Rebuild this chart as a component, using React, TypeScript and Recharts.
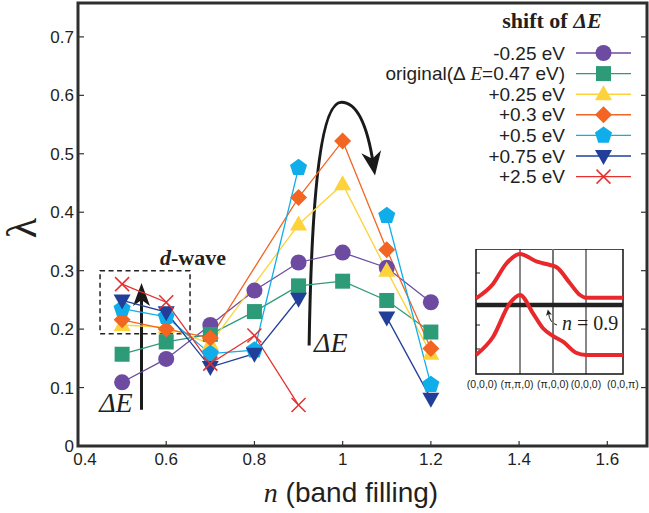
import React from 'react';
import {
  LineChart,
  Line,
  XAxis,
  YAxis,
  ReferenceArea,
  ReferenceLine,
  Customized,
} from 'recharts';

// ---------------- data ----------------
const nValues = [0.5, 0.6, 0.7, 0.8, 0.9, 1.0, 1.1, 1.2];
const lamMinus025 = [0.109, 0.149, 0.207, 0.266, 0.314, 0.331, 0.305, 0.246];
const lamOriginal = [0.157, 0.178, 0.191, 0.23, 0.274, 0.282, 0.249, 0.195];
const lamPlus025 = [0.207, 0.203, 0.175, null, 0.379, 0.448, 0.3, 0.158];
const lamPlus03 = [0.216, 0.2, 0.185, null, 0.425, 0.522, 0.336, 0.167];
const lamPlus05 = [0.235, 0.221, 0.158, 0.164, 0.476, null, 0.394, 0.105];
const lamPlus075 = [0.249, 0.229, 0.135, 0.158, 0.252, null, 0.22, 0.081];
const lamPlus25 = [0.277, 0.246, 0.141, 0.189, 0.07, null, null, null];

const xTicks = [0.4, 0.6, 0.8, 1.0, 1.2, 1.4, 1.6];
const xTickLabels = ['0.4', '0.6', '0.8', '1', '1.2', '1.4', '1.6'];
const yTicks = [0, 0.1, 0.2, 0.3, 0.4, 0.5, 0.6, 0.7];
const yTickLabels = ['0', '0.1', '0.2', '0.3', '0.4', '0.5', '0.6', '0.7'];

// inset (schematic band dispersion)
const kPos = [0, 44, 77, 110, 147];
const kLabels = ['(0,0,0)', '(\u03c0,\u03c0,0)', '(\u03c0,0,0)', '(0,0,0)', '(0,0,\u03c0)'];
const upperK = [0, 17, 30, 44, 61, 74, 81, 94, 104, 110, 147];
const upperE = [75.7, 90, 110, 120, 112.3, 109, 106.5, 90.7, 79, 76.3, 76.3];
const lowerK = [0, 17, 34, 44, 57, 67, 77, 87, 100, 110, 147];
const lowerE = [19, 37, 71, 79, 60.7, 45.7, 38, 32.3, 21.3, 19, 19];
const fermiE = 69;
const insetTickE = [101, 49, 25];

// ---------------- series ----------------
type Shape = 'circle' | 'square' | 'triUp' | 'diamond' | 'pentagon' | 'triDown' | 'x';
const series: { key: string; values: (number | null)[]; color: string; shape: Shape; connect: boolean }[] = [
  { key: 'm025', values: lamMinus025, color: '#6C4BA0', shape: 'circle', connect: false },
  { key: 'orig', values: lamOriginal, color: '#2E9B78', shape: 'square', connect: false },
  { key: 'p025', values: lamPlus025, color: '#FDD23A', shape: 'triUp', connect: true },
  { key: 'p03', values: lamPlus03, color: '#F26522', shape: 'diamond', connect: true },
  { key: 'p05', values: lamPlus05, color: '#0FAEEA', shape: 'pentagon', connect: false },
  { key: 'p075', values: lamPlus075, color: '#213F99', shape: 'triDown', connect: false },
  { key: 'p25', values: lamPlus25, color: '#E3312F', shape: 'x', connect: false },
];

// split each series into drawn runs (gaps where the original curve is broken)
function runsOf(values: (number | null)[], connect: boolean) {
  const runs: { n: number; v: number }[][] = [];
  let cur: { n: number; v: number }[] = [];
  values.forEach((v, i) => {
    if (v == null) {
      if (!connect && cur.length) {
        runs.push(cur);
        cur = [];
      }
    } else {
      cur.push({ n: nValues[i], v });
    }
  });
  if (cur.length) runs.push(cur);
  return runs;
}

// ---------------- layout ----------------
const W = 649;
const H = 513;
const PL = 78;
const PT = 3;
const PR = 647;
const PB = 446;
const XMIN = 0.4;
const XMAX = 1.69;
const YMAX = 0.758;
const sx = (n: number) => PL + ((n - XMIN) / (XMAX - XMIN)) * (PR - PL);
const sy = (v: number) => PB - (v / YMAX) * (PB - PT);

const SANS = '"Liberation Sans", Arial, Helvetica, sans-serif';
const SERIF = '"Liberation Serif", "Times New Roman", Times, serif';
const INK = '#231F20';
const AXC = '#333333';

function Marker({ shape, x, y, color }: { shape: Shape; x: number; y: number; color: string }) {
  switch (shape) {
    case 'circle':
      return <circle cx={x} cy={y} r={8} fill={color} />;
    case 'square':
      return <rect x={x - 7.5} y={y - 7.5} width={15} height={15} fill={color} />;
    case 'triUp':
      return <polygon points={`${x},${y - 9} ${x + 8.5},${y + 6} ${x - 8.5},${y + 6}`} fill={color} />;
    case 'triDown':
      return <polygon points={`${x},${y + 9} ${x + 8.5},${y - 6} ${x - 8.5},${y - 6}`} fill={color} />;
    case 'diamond':
      return <polygon points={`${x},${y - 8.5} ${x + 8.5},${y} ${x},${y + 8.5} ${x - 8.5},${y}`} fill={color} />;
    case 'pentagon': {
      const pts = [0, 1, 2, 3, 4]
        .map((k) => {
          const a = ((-90 + k * 72) * Math.PI) / 180;
          return `${x + 9 * Math.cos(a)},${y + 9 * Math.sin(a)}`;
        })
        .join(' ');
      return <polygon points={pts} fill={color} />;
    }
    case 'x':
      return (
        <g stroke={color} strokeWidth={1.5}>
          <line x1={x - 7} y1={y - 7} x2={x + 7} y2={y + 7} />
          <line x1={x - 7} y1={y + 7} x2={x + 7} y2={y - 7} />
        </g>
      );
  }
  return null;
}

const makeDot = (shape: Shape, color: string) => (props: any) => {
  const { cx, cy, index, value } = props;
  if (cx == null || cy == null || value == null || Number.isNaN(cy)) return <g key={`d-${index}`} />;
  return (
    <g key={`d-${index}`}>
      <Marker shape={shape} x={cx} y={cy} color={color} />
    </g>
  );
};

const XTick = (props: any) => {
  const { x, payload } = props;
  const i = xTicks.indexOf(payload.value);
  const dx = i === 0 ? 7 : 0;
  return (
    <g>
      <line x1={x} x2={x} y1={PB} y2={PB - 5} stroke={AXC} strokeWidth={1.2} />
      <text x={x + dx} y={465} textAnchor="middle" fontSize={17} fontFamily={SANS} fill={INK}>
        {xTickLabels[i]}
      </text>
    </g>
  );
};

const YTick = (props: any) => {
  const { y, payload } = props;
  const i = yTicks.indexOf(payload.value);
  return (
    <g>
      <line x1={PL} x2={PL + 6} y1={y} y2={y} stroke={AXC} strokeWidth={1.2} />
      <line x1={PR} x2={PR - 6} y1={y} y2={y} stroke={AXC} strokeWidth={1.2} />
      <text x={74} y={y + 6} textAnchor="end" fontSize={17} fontFamily={SANS} fill={INK}>
        {yTickLabels[i]}
      </text>
    </g>
  );
};

const legendLabels: React.ReactNode[] = [
  '-0.25 eV',
  <>
    original(&#916;
    <tspan fontFamily={SERIF} fontStyle="italic">
      {' E'}
    </tspan>
    =0.47 eV)
  </>,
  '+0.25 eV',
  '+0.3 eV',
  '+0.5 eV',
  '+0.75 eV',
  '+2.5 eV',
];

function arrowHead(tipX: number, tipY: number, dx: number, dy: number, len: number, half: number, notch: number) {
  const L = Math.hypot(dx, dy);
  const ux = dx / L;
  const uy = dy / L;
  const px = -uy;
  const py = ux;
  const bx = tipX - ux * len;
  const by = tipY - uy * len;
  const nx = tipX - ux * notch;
  const ny = tipY - uy * notch;
  return `${tipX},${tipY} ${bx + px * half},${by + py * half} ${nx},${ny} ${bx - px * half},${by - py * half}`;
}

const Annotations = () => {
  const ax = sx(0.544);
  const c0 = [sx(0.924), sy(0.172)];
  const c1 = [sx(0.93), sy(0.46)];
  const c2 = [sx(0.955), sy(0.588)];
  const c3 = [sx(0.997), sy(0.588)];
  const c4 = [sx(1.04), sy(0.588)];
  const c5 = [sx(1.06), sy(0.53)];
  const c6 = [sx(1.07), sy(0.48)];
  const tip = [c6[0] + 1.5, c6[1] + 10];
  const rowY0 = 53;
  const rowStep = 20.6;
  return (
    <g>
      <rect
        x={sx(0.45)}
        y={sy(0.3)}
        width={sx(0.654) - sx(0.45)}
        height={sy(0.192) - sy(0.3)}
        fill="none"
        stroke="#222"
        strokeWidth={1.5}
        strokeDasharray="5 3.5"
      />
      <text x={sx(0.586)} y={sy(0.31)} fontFamily={SERIF} fontWeight="bold" fontSize={22} fill={INK}>
        <tspan fontStyle="italic">d</tspan>-wave
      </text>
      <line x1={ax} x2={ax} y1={sy(0.062)} y2={sy(0.25)} stroke="#1a1a1a" strokeWidth={3} />
      <polygon points={arrowHead(ax, sy(0.279), 0, -1, 23, 8.5, 17)} fill="#1a1a1a" />
      <text x={sx(0.448)} y={sy(0.058)} fontFamily={SERIF} fontStyle="italic" fontSize={28} fill={INK}>
        &#916;E
      </text>
      <path
        d={`M${c0[0]},${c0[1]} C${c1[0]},${c1[1]} ${c2[0]},${c2[1]} ${c3[0]},${c3[1]} C${c4[0]},${c4[1]} ${c5[0]},${c5[1]} ${c6[0]},${c6[1]}`}
        fill="none"
        stroke="#1a1a1a"
        strokeWidth={3}
      />
      <polygon points={arrowHead(tip[0], tip[1], 0.16, 1, 24, 10, 17)} fill="#1a1a1a" />
      <text x={sx(0.935)} y={sy(0.161)} fontFamily={SERIF} fontStyle="italic" fontSize={28} fill={INK}>
        &#916;E
      </text>
      <text x={552} y={28} textAnchor="middle" fontFamily={SERIF} fontWeight="bold" fontSize={22} fill={INK}>
        shift of <tspan fontStyle="italic">&#916;E</tspan>
      </text>
      {series.map((s, i) => {
        const y = rowY0 + i * rowStep;
        return (
          <g key={s.key}>
            <text x={565} y={y + 6.5} textAnchor="end" fontFamily={SANS} fontSize={19} fill={INK}>
              {legendLabels[i]}
            </text>
            <line x1={576} x2={631} y1={y} y2={y} stroke={s.color} strokeWidth={1.4} />
            <Marker shape={s.shape} x={603.5} y={y} color={s.color} />
          </g>
        );
      })}
      <text
        x={22}
        y={228}
        textAnchor="middle"
        dominantBaseline="central"
        fontFamily={SERIF}
        fontSize={42}
        fill={INK}
        transform="rotate(-90 22 228)"
      >
        &#955;
      </text>
      <text x={351} y={502} textAnchor="middle" fontSize={28} fontFamily={SANS} fill={INK}>
        <tspan fontFamily={SERIF} fontStyle="italic">n</tspan> (band filling)
      </text>
    </g>
  );
};

// ---------------- inset ----------------
const IL = 10;
const IT = 0;
const IW = 147;
const IH = 125;
const upperData = upperK.map((k, i) => ({ k, e: upperE[i] }));
const lowerData = lowerK.map((k, i) => ({ k, e: lowerE[i] }));
const ix = (k: number) => IL + (k / 147) * IW;
const iy = (e: number) => IT + IH - (e / 125) * IH;

const InsetTick = (props: any) => {
  const { x, payload } = props;
  const i = kPos.indexOf(payload.value);
  const dx = i === 0 ? 6 : i === 1 ? -3 : 0;
  return (
    <text x={x + dx} y={139} textAnchor="middle" fontSize={10.5} fontFamily={SANS} fill={INK}>
      {kLabels[i]}
    </text>
  );
};

const InsetAnnot = () => (
  <g>
    {insetTickE.map((e) => (
      <line key={e} x1={ix(0)} x2={ix(0) + 4} y1={iy(e)} y2={iy(e)} stroke="#222" strokeWidth={1} />
    ))}
    <path
      d={`M${ix(81)},${iy(49)} Q${ix(73.5)},${iy(51)} ${ix(72.5)},${iy(61)}`}
      fill="none"
      stroke="#222"
      strokeWidth={1}
    />
    <polygon points={arrowHead(ix(71.8), iy(64.5), -0.2, -1, 6, 3, 4.5)} fill="#222" />
    <text x={ix(86)} y={iy(44)} fontFamily={SERIF} fontSize={20} fill={INK}>
      <tspan fontStyle="italic">n</tspan> = 0.9
    </text>
  </g>
);

const Inset = () => (
  <LineChart width={180} height={145} margin={{ top: IT, right: 23, left: IL, bottom: 0 }}>
    <XAxis
      dataKey="k"
      type="number"
      domain={[0, 147]}
      ticks={kPos}
      interval={0}
      height={20}
      axisLine={false}
      tickLine={false}
      tick={<InsetTick />}
      allowDataOverflow
    />
    <YAxis type="number" domain={[0, 125]} hide allowDataOverflow />
    <ReferenceLine x={44} stroke="#111" strokeWidth={1} />
    <ReferenceLine x={77} stroke="#777" strokeWidth={2} />
    <ReferenceLine x={110} stroke="#111" strokeWidth={1} />
    <ReferenceLine y={fermiE} stroke="#222" strokeWidth={4.5} />
    <Line data={upperData} dataKey="e" type="monotone" stroke="#E8282B" strokeWidth={4} dot={false} isAnimationActive={false} />
    <Line data={lowerData} dataKey="e" type="monotone" stroke="#E8282B" strokeWidth={4} dot={false} isAnimationActive={false} />
    <ReferenceArea x1={0} x2={147} y1={0} y2={125} fill="none" stroke="#111" strokeWidth={1.5} />
    <Customized component={<InsetAnnot />} />
  </LineChart>
);

export default function App() {
  return (
    <div style={{ position: 'relative', width: W, height: H, background: '#fff' }}>
      <style>{'body{margin:0;background:#fff}'}</style>
      <LineChart width={W} height={H} margin={{ top: PT, right: W - PR, left: 0, bottom: 0 }}>
        <XAxis
          dataKey="n"
          type="number"
          domain={[XMIN, XMAX]}
          ticks={xTicks}
          interval={0}
          height={H - PB}
          axisLine={false}
          tickLine={false}
          tick={<XTick />}
          allowDataOverflow
        />
        <YAxis
          type="number"
          domain={[0, YMAX]}
          ticks={yTicks}
          interval={0}
          width={PL}
          axisLine={false}
          tickLine={false}
          tick={<YTick />}
          allowDataOverflow
        />
        <ReferenceArea x1={XMIN} x2={XMAX} y1={0} y2={YMAX} fill="none" stroke="#2e2e2e" strokeWidth={3} />
        {series.flatMap((s) =>
          runsOf(s.values, s.connect).map((run, r) => (
            <Line
              key={`${s.key}-${r}`}
              data={run}
              dataKey="v"
              type="linear"
              stroke={s.color}
              strokeWidth={1.3}
              dot={makeDot(s.shape, s.color)}
              activeDot={false}
              isAnimationActive={false}
            />
          ))
        )}
        <Customized component={<Annotations />} />
      </LineChart>
      <div style={{ position: 'absolute', left: 466, top: 249 }}>
        <Inset />
      </div>
    </div>
  );
}
